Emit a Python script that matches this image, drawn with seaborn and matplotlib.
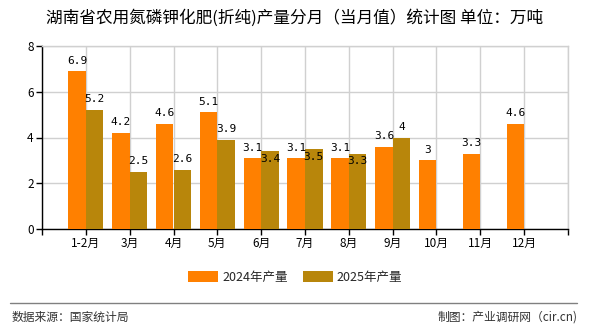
import matplotlib
matplotlib.use("Agg")
import matplotlib.pyplot as plt
import seaborn as sns
import pandas as pd
import numpy as np

months = ["1-2月", "3月", "4月", "5月", "6月", "7月", "8月", "9月", "10月", "11月", "12月"]
v2024 = [6.9, 4.2, 4.6, 5.1, 3.1, 3.1, 3.1, 3.6, 3.0, 3.3, 4.6]
v2025 = [5.2, 2.5, 2.6, 3.9, 3.4, 3.5, 3.3, 4.0, np.nan, np.nan, np.nan]
series = ["2024年产量", "2025年产量"]
colors = ["#FF8000", "#B8860B"]

sns.set_theme(style="white")
plt.rcParams['font.family'] = ['Noto Sans CJK SC', 'DejaVu Sans']

df = pd.DataFrame({
    "月份": months * 2,
    "产量": v2024 + v2025,
    "系列": [series[0]] * len(months) + [series[1]] * len(months),
})

fig = plt.figure(figsize=(5.9, 3.3), dpi=100)
ax = fig.add_axes([42/590, 1 - 229/330, (568-42)/590, (229-46)/330])

sns.barplot(data=df, x="月份", y="产量", hue="系列", hue_order=series,
            palette=colors, order=months, width=0.8, saturation=1,
            linewidth=0, ax=ax, legend=True, zorder=3)

n = len(months)
ax.set_xlim(-1, n)
ax.set_ylim(0, 8)
ax.set_yticks([0, 2, 4, 6, 8])
ax.set_xticks(range(-1, n + 1))
ax.set_xticklabels([""] + months + [""])
ax.set_xlabel("")
ax.set_ylabel("")
ax.grid(True, color="#d0d0d0", linewidth=1, zorder=0)
ax.set_axisbelow(True)
for s in ["top", "right"]:
    ax.spines[s].set_visible(True)
    ax.spines[s].set_color("#d0d0d0")
    ax.spines[s].set_linewidth(1)
for s in ["left", "bottom"]:
    ax.spines[s].set_color("black")
    ax.spines[s].set_linewidth(1)
ax.tick_params(axis="both", direction="out", length=4, width=1, color="black",
               labelsize=8.5, labelcolor="black", pad=2)
ax.tick_params(axis="x", bottom=True)
ax.tick_params(axis="y", left=True)

# data labels
below_2025 = {4, 5, 6}
for i, v in enumerate(v2024):
    ax.annotate(f"{v:g}", (i - 0.2, v), xytext=(0, 4), textcoords="offset points",
                ha="center", va="bottom", fontsize=8, family="DejaVu Sans Mono", color="black")
for i, v in enumerate(v2025):
    if np.isnan(v):
        continue
    if i in below_2025:
        ax.annotate(f"{v:g}", (i + 0.2, v), xytext=(0, -2), textcoords="offset points",
                    ha="center", va="top", fontsize=8, family="DejaVu Sans Mono", color="black")
    else:
        ax.annotate(f"{v:g}", (i + 0.2, v), xytext=(0, 4), textcoords="offset points",
                    ha="center", va="bottom", fontsize=8, family="DejaVu Sans Mono", color="black")

leg = ax.legend(loc="center", bbox_to_anchor=(295/590, 1 - 277/330), bbox_transform=fig.transFigure,
                ncol=2, frameon=False, fontsize=9, handlelength=2.4, handleheight=1.0,
                columnspacing=1.2, handletextpad=0.3)

fig.text(0.5, 1 - 18/330, "湖南省农用氮磷钾化肥(折纯)产量分月（当月值）统计图 单位：万吨",
         ha="center", va="center", fontsize=12, color="black")
fig.add_artist(plt.Line2D([10/590, 577/590], [1 - 303/330, 1 - 303/330],
                          transform=fig.transFigure, color="#808080", linewidth=1))
fig.text(12/590, 1 - 317/330, "数据来源：国家统计局", ha="left", va="center", fontsize=8.5, color="#333333")
fig.text(578/590, 1 - 317/330, "制图：产业调研网（cir.cn)", ha="right", va="center", fontsize=8.5, color="#333333")

fig.savefig("out.png", dpi=100)
